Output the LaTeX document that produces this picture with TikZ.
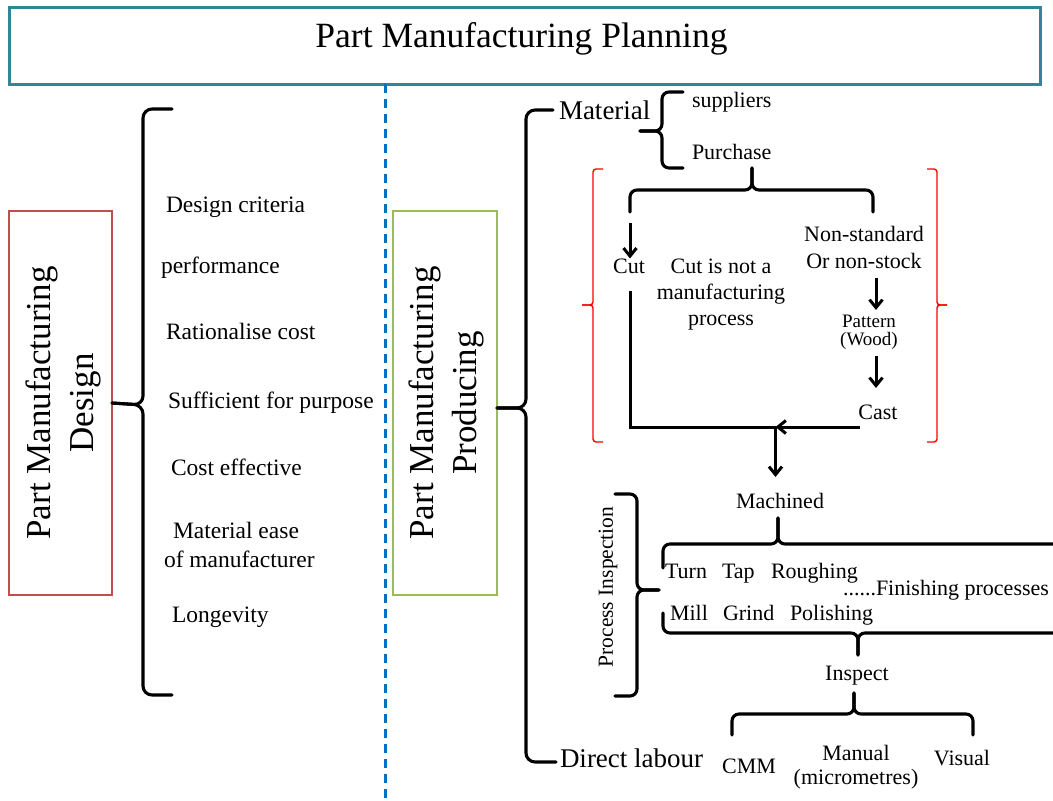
\documentclass[tikz,border=0pt]{standalone}
\usepackage{fontspec}
\setmainfont{Liberation Serif}
\usetikzlibrary{arrows.meta}
\definecolor{titlec}{RGB}{49,132,155}
\definecolor{redbox}{RGB}{192,80,77}
\definecolor{greenbox}{RGB}{155,187,89}
\definecolor{dashc}{RGB}{0,112,192}
\tikzset{
  every node/.style={inner sep=0pt, outer sep=0pt},
  txt/.style={font=\fontsize{22}{26}\selectfont, anchor=base},
  txtw/.style={font=\fontsize{22}{26}\selectfont, anchor=base west},
  small/.style={font=\fontsize{19}{22}\selectfont, anchor=base},
  lst/.style={font=\fontsize{23.5}{28}\selectfont, anchor=base west},
  big/.style={font=\fontsize{27}{32}\selectfont, anchor=base west},
  vert/.style={rotate=90, align=center, font=\fontsize{35}{43}\selectfont},
  brc/.style={draw=black, line width=3.1pt, rounded corners=9pt, line join=round, line cap=round},
  sbrc/.style={brc, rounded corners=7pt},
  rbr/.style={draw=red, line width=1.4pt, rounded corners=3pt},
  plain/.style={draw=black, line width=3pt},
  arr/.style={draw=black, line width=3pt, -{Straight Barb[length=8pt,width=13pt]}},
}
\begin{document}
\begin{tikzpicture}[x=1pt,y=-1pt]
\useasboundingbox (0,0) rectangle (1053,801);

% title
\node[draw=titlec, line width=3pt, minimum width=1031pt, minimum height=77pt] (titlebox) at (524.5,45.5) {};
\node[font=\fontsize{35.5}{40}\selectfont, anchor=base] (title) at (521.5,47) {Part Manufacturing Planning};

% dashed divider
\coordinate (dashtop) at (385,84);
\coordinate (dashbot) at (385,801);
\draw[dashc, line width=3pt, dash pattern=on 9pt off 6pt] (dashtop) -- (dashbot);

% left: design
\node[draw=redbox, line width=2.5pt, minimum width=103pt, minimum height=384pt] (design) at (60.5,403) {};
\node[vert] (designtxt) at (63.5,403) {Part Manufacturing\\Design};
\draw[brc] (172,109) -- (143,109) -- (143,405) -- (design.east);
\draw[brc] (design.east) -- (143,405) -- (143,695) -- (172,695);

\node[lst] (d1) at (166,212) {Design criteria};
\node[lst] (d2) at (161,273) {performance};
\node[lst] (d3) at (166,339) {Rationalise cost};
\node[lst] (d4) at (168,408) {Sufficient for purpose};
\node[lst] (d5) at (171,475) {Cost effective};
\node[lst] (d6) at (173,538) {Material ease};
\node[lst] (d7) at (164,567) {of manufacturer};
\node[lst] (d8) at (172,622) {Longevity};

% right: producing
\node[draw=greenbox, line width=2.5pt, minimum width=104pt, minimum height=384pt] (producing) at (445,403) {};
\node[vert] (producingtxt) at (446.5,403) {Part Manufacturing\\Producing};
\draw[brc] (553,110) -- (526,110) -- (526,408) -- (497,408);
\draw[brc] (497,408) -- (526,408) -- (526,762) -- (556,762);

\node[big] (material) at (559,119) {Material};
\node[big] (labour) at (560,767) {Direct labour};

% material brace
\draw[sbrc] (683,92) -- (662,92) -- (662,131) -- (640,131);
\draw[sbrc] (640,131) -- (662,131) -- (662,168) -- (683,168);
\node[txtw] (suppliers) at (692,107) {suppliers};
\node[txtw] (purchase) at (692,159) {Purchase};

% red brackets
\draw[rbr] (603,169) -- (593,169) -- (593,305) -- (582,305);
\draw[rbr] (582,305) -- (593,305) -- (593,442) -- (603,442);
\draw[rbr] (927,169) -- (937,169) -- (937,305) -- (947,305);
\draw[rbr] (947,305) -- (937,305) -- (937,442) -- (927,442);

% purchase brace
\draw[sbrc] (630,212) -- (630,190) -- (752,190) -- (752,168);
\draw[sbrc] (752,168) -- (752,190) -- (873,190) -- (873,212);

\node[txt] (cut) at (629,273) {Cut};
\node[txt] (cn1) at (721,273) {Cut is not a};
\node[txt] (cn2) at (721,299) {manufacturing};
\node[txt] (cn3) at (721,325) {process};
\node[txt] (ns1) at (864,241) {Non-standard};
\node[txt] (ns2) at (864,268) {Or non-stock};
\node[small] (pattern) at (869,327) {Pattern};
\node[small] (wood) at (869,345) {(Wood)};
\node[txt] (cast) at (878,419) {Cast};

\coordinate (cutA) at (630,223);
\coordinate (cutB) at (630,291);
\coordinate (junc) at (775.5,427);
\coordinate (castA) at (860,427);
\coordinate (machA) at (775.5,477);
\coordinate (nsA) at (876,278);
\coordinate (nsB) at (876,310);
\coordinate (ptA) at (876,356);
\coordinate (ptB) at (876,388);

\draw[arr] (cutA) -- (cutA |- cut.north);
\draw[arr] (nsA) -- (nsB);
\draw[arr] (ptA) -- (ptB);
\draw[plain] (cutB) |- (junc);
\draw[arr] (castA) -- (junc);
\draw[arr] (junc) -- (machA);

\node[txt] (machined) at (780,508) {Machined};

% machined brace
\draw[sbrc] (663,568) -- (663,544) -- (778,544) -- (778,518);
\draw[sbrc] (778,518) -- (778,544) -- (1075,544);

\node[txtw] (turn) at (665,578) {Turn};
\node[txtw] (tap) at (722,578) {Tap};
\node[txtw] (rough) at (771,578) {Roughing};
\node[txtw] (finish) at (843,595) {......Finishing processes};
\node[txtw] (mill) at (670,620) {Mill};
\node[txtw] (grind) at (723,620) {Grind};
\node[txtw] (polish) at (790,620) {Polishing};

% polishing brace
\draw[sbrc] (663,613) -- (663,633) -- (858,633) -- (858,655);
\draw[sbrc] (858,655) -- (858,633) -- (1075,633);

\node[txt] (inspect) at (857,680) {Inspect};

% inspect brace
\draw[sbrc] (732,735) -- (732,714) -- (854,714) -- (854,693);
\draw[sbrc] (854,693) -- (854,714) -- (973,714) -- (973,735);

\node[txt] (cmm) at (749,773) {CMM};
\node[txt] (manual) at (856,760) {Manual};
\node[txt] (micro) at (856,784) {(micrometres)};
\node[txt] (visual) at (962,765) {Visual};

% process inspection
\node[rotate=90, font=\fontsize{21.5}{25}\selectfont] (procinsp) at (608,587) {Process Inspection};
\draw[sbrc] (615,494) -- (637,494) -- (637,590) -- (659,590);
\draw[sbrc] (659,590) -- (637,590) -- (637,696) -- (615,696);
\end{tikzpicture}
\end{document}
